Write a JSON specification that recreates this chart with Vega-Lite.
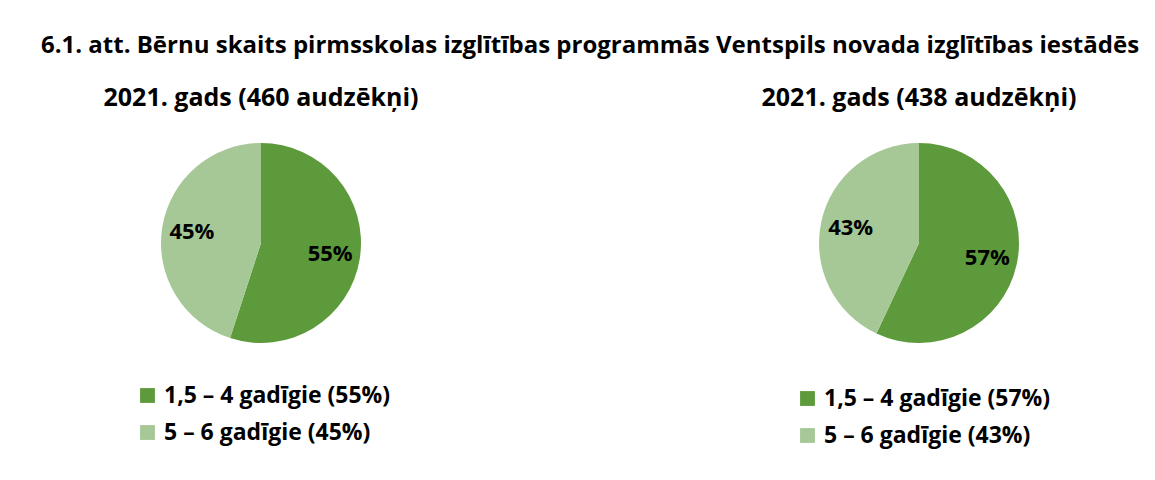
{
  "$schema": "https://vega.github.io/schema/vega-lite/v6.json",
  "background": "white",
  "padding": {"left": 40, "top": 34, "right": 17, "bottom": 10},
  "title": {"text": "6.1. att. Bērnu skaits pirmsskolas izglītības programmās Ventspils novada izglītības iestādēs", "font": "Open Sans", "fontSize": 24, "fontWeight": "bold", "color": "#000000", "anchor": "middle", "offset": 28},
  "datasets": {
    "y1": [
      {"grupa": "1,5 – 4 gadīgie (55%)", "vertiba": 55, "uzraksts": "55%", "seciba": 1},
      {"grupa": "5 – 6 gadīgie (45%)", "vertiba": 45, "uzraksts": "45%", "seciba": 2}
    ],
    "y2": [
      {"grupa": "1,5 – 4 gadīgie (57%)", "vertiba": 57, "uzraksts": "57%", "seciba": 1},
      {"grupa": "5 – 6 gadīgie (43%)", "vertiba": 43, "uzraksts": "43%", "seciba": 2}
    ]
  },
  "spacing": 218,
  "resolve": {"scale": {"color": "independent"}},
  "hconcat": [
    {
      "width": 440, "height": 210,
      "title": {"text": "2021. gads (460 audzēkņi)", "font": "Open Sans", "fontSize": 25, "fontWeight": "bold", "color": "#000000", "offset": 27},
      "data": {"name": "y1"},
      "encoding": {
        "theta": {"field": "vertiba", "type": "quantitative", "stack": true},
        "order": {"field": "seciba", "type": "ordinal"}
      },
      "layer": [
        {
          "mark": {"type": "arc", "outerRadius": 100, "strokeWidth": 0},
          "encoding": {
            "color": {"field": "grupa", "type": "nominal",
              "scale": {"range": ["#5c9a3b", "#a5c896"]},
              "legend": {"title": null, "orient": "none", "legendX": 95, "legendY": 246, "direction": "vertical", "labelFont": "Open Sans", "labelFontSize": 23, "labelFontWeight": "bold", "labelColor": "#000000", "labelLimit": 0, "symbolType": "square", "symbolSize": 220, "symbolStrokeWidth": 0, "rowPadding": 13, "labelOffset": 5}
            }
          }
        },
        {
          "mark": {"type": "text", "radius": 70, "font": "Open Sans", "fontSize": 22, "fontWeight": "bold", "color": "#000000"},
          "encoding": {"text": {"field": "uzraksts"}}
        }
      ]
    },
    {
      "width": 440, "height": 210,
      "title": {"text": "2021. gads (438 audzēkņi)", "font": "Open Sans", "fontSize": 25, "fontWeight": "bold", "color": "#000000", "offset": 27},
      "data": {"name": "y2"},
      "encoding": {
        "theta": {"field": "vertiba", "type": "quantitative", "stack": true},
        "order": {"field": "seciba", "type": "ordinal"}
      },
      "layer": [
        {
          "mark": {"type": "arc", "outerRadius": 100, "strokeWidth": 0},
          "encoding": {
            "color": {"field": "grupa", "type": "nominal",
              "scale": {"range": ["#5c9a3b", "#a5c896"]},
              "legend": {"title": null, "orient": "none", "legendX": 97, "legendY": 249, "direction": "vertical", "labelFont": "Open Sans", "labelFontSize": 23, "labelFontWeight": "bold", "labelColor": "#000000", "labelLimit": 0, "symbolType": "square", "symbolSize": 220, "symbolStrokeWidth": 0, "rowPadding": 13, "labelOffset": 5}
            }
          }
        },
        {
          "mark": {"type": "text", "radius": 70, "font": "Open Sans", "fontSize": 22, "fontWeight": "bold", "color": "#000000"},
          "encoding": {"text": {"field": "uzraksts"}}
        }
      ]
    }
  ],
  "config": {"view": {"stroke": null}}
}
